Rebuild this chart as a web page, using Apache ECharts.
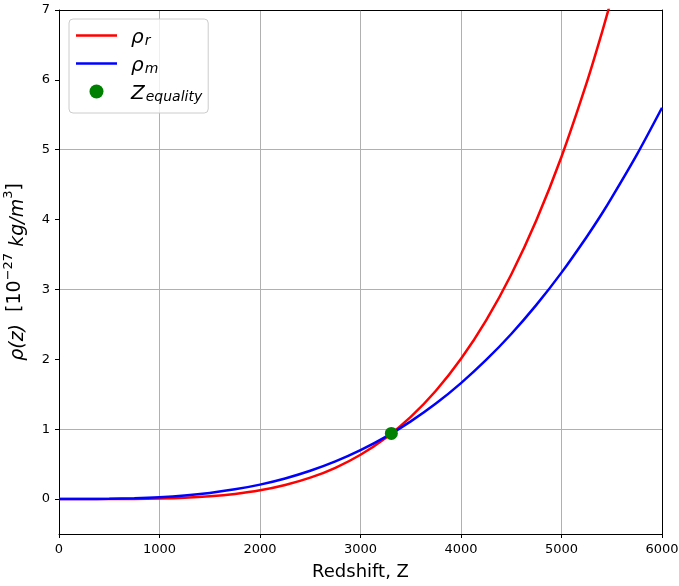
<!DOCTYPE html>
<html>
<head>
<meta charset="utf-8">
<script src="https://cdn.jsdelivr.net/npm/echarts@6/dist/echarts.min.js"></script>
<style>html,body{margin:0;padding:0;background:#fff;}#c{width:679px;height:586px;}</style>
</head>
<body>
<div id="c"></div>
<script>
// Redshift sample points (x)
var redshift = [0,250,500,750,1000,1250,1500,1750,2000,2250,2500,2750,3000,3250,3500,3750,4000,4250,4500,4750,5000,5250,5400,5500,5750,6000];
// Radiation density rho_r (10^-27 kg/m^3)
var rhoR = [0,0.00,0.0005,0.0025,0.008,0.019,0.040,0.074,0.125,0.201,0.306,0.448,0.635,0.875,1.176,1.550,2.007,2.558,3.215,3.991,4.900,5.956,6.666,7.174,null,null];
// Matter density rho_m (10^-27 kg/m^3)
var rhoM = [0,0.0004,0.0032,0.011,0.026,0.051,0.088,0.139,0.207,0.295,0.405,0.539,0.700,0.890,1.112,1.367,1.660,1.991,2.363,2.779,3.241,3.752,4.080,4.314,4.930,5.601];
// Equality point
var zEq = [3307, 0.94];
var xTicks = [0,1000,2000,3000,4000,5000,6000];
var yTicks = [0,1,2,3,4,5,6,7];

function pairs(xs, ys){ var o=[]; for(var i=0;i<xs.length;i++){ if(ys[i]!==null) o.push([xs[i], ys[i]]);} return o; }

var font = 'DejaVu Sans';
var chart = echarts.init(document.getElementById('c'));
var legendNames = {rho_r:'{i|ρ}{s|r}', rho_m:'{i|ρ}{s|m}', z_eq:'{i|Z}{s|equality}'};
var lineIcon = 'path://M0,0 M41,14 M0,5.75 L41,5.75 L41,8.25 L0,8.25 Z';
chart.setOption({
  animation:false,
  backgroundColor:'#fff',
  textStyle:{fontFamily:font},
  grid:{left:59,right:17,top:10,bottom:52,outerBoundsMode:'none',containLabel:false},
  legend:{
    left:69, top:19, orient:'vertical',
    padding:[9,6,9,7], itemGap:8, itemWidth:41, itemHeight:14,
    backgroundColor:'rgba(255,255,255,0.8)', borderColor:'#cccccc', borderWidth:1, borderRadius:4,
    data:[{name:'rho_r', icon:lineIcon},{name:'rho_m', icon:lineIcon},{name:'z_eq', icon:'circle'}],
    formatter:function(n){return legendNames[n];},
    textStyle:{fontFamily:font, color:'#000', rich:{
      i:{fontSize:20, fontStyle:'italic', fontFamily:font, color:'#000', lineHeight:25, verticalAlign:'bottom', padding:[0,0,0,9]},
      s:{fontSize:14, fontStyle:'italic', fontFamily:font, color:'#000', lineHeight:25, verticalAlign:'bottom', padding:[0,0,0,1]}
    }}
  },
  xAxis:[{
    type:'value', min:0, max:6000, interval:1000,
    name:'Redshift, Z', nameLocation:'middle', nameGap:29,
    nameTextStyle:{fontSize:18, color:'#000', fontFamily:font},
    axisLine:{show:true, onZero:false, lineStyle:{color:'#000', width:1}},
    axisTick:{show:true, length:4, lineStyle:{color:'#000'}},
    axisLabel:{fontSize:13, color:'#000', margin:9, fontFamily:font, formatter:function(v){return String(v);}},
    splitLine:{show:true, lineStyle:{color:'#b0b0b0', width:1}}
  },{
    type:'value', position:'top', min:0, max:6000, interval:1000,
    axisLine:{show:true, onZero:false, lineStyle:{color:'#000', width:1}},
    axisTick:{show:false}, axisLabel:{show:false}, splitLine:{show:false}
  }],
  yAxis:[{
    type:'value', min:-0.5, max:7, interval:0.5,
    name:'{i|ρ(z)}  [10{u|−27} {i|kg/m}{u|3}]', nameLocation:'middle', nameGap:31,
    nameTextStyle:{fontSize:19, color:'#000', fontFamily:font, rich:{
      i:{fontSize:19, fontStyle:'italic', fontFamily:font, color:'#000', lineHeight:26, verticalAlign:'bottom'},
      u:{fontSize:13, fontFamily:font, color:'#000', lineHeight:26, verticalAlign:'top'}
    }},
    axisLine:{show:true, onZero:false, lineStyle:{color:'#000', width:1}},
    axisTick:{show:true, length:4, lineStyle:{color:'#000'}, customValues:yTicks},
    axisLabel:{fontSize:13, color:'#000', margin:9, fontFamily:font, customValues:yTicks},
    splitLine:{show:true, lineStyle:{color:['rgba(0,0,0,0)','#b0b0b0'], width:1}}
  },{
    type:'value', position:'right', min:-0.5, max:7, interval:0.5,
    axisLine:{show:true, onZero:false, lineStyle:{color:'#000', width:1}},
    axisTick:{show:false}, axisLabel:{show:false}, splitLine:{show:false}
  }],
  series:[
    {name:'rho_r', type:'line', data:pairs(redshift, rhoR), symbol:'none', smooth:0.3, clip:true,
     lineStyle:{color:'#ff0000', width:2.5}, itemStyle:{color:'#ff0000'}, z:3},
    {name:'rho_m', type:'line', data:pairs(redshift, rhoM), symbol:'none', smooth:0.3, clip:true,
     lineStyle:{color:'#0000ff', width:2.5}, itemStyle:{color:'#0000ff'}, z:4},
    {name:'z_eq', type:'scatter', data:[zEq], symbol:'circle', symbolSize:13,
     itemStyle:{color:'#008000', opacity:1}, z:5}
  ]
});
</script>
</body>
</html>
